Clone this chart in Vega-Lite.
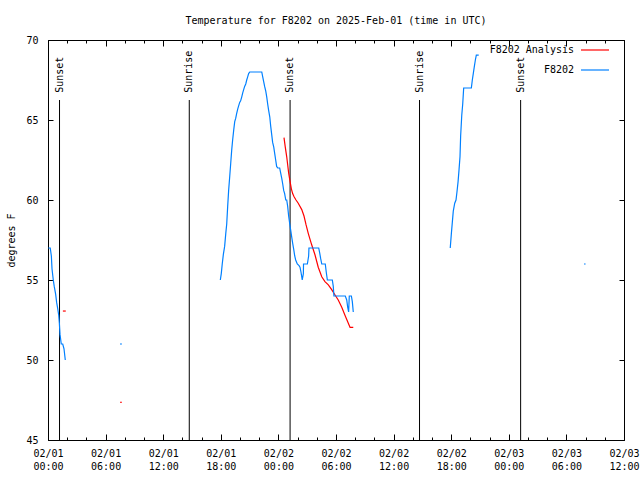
{
  "$schema": "https://vega.github.io/schema/vega-lite/v6.json",
  "width": 576,
  "height": 400,
  "autosize": "none",
  "padding": {"left": 48, "top": 40, "right": 16, "bottom": 40},
  "background": "white",
  "config": {
    "view": {"stroke": "black", "strokeWidth": 1},
    "font": "DejaVu Sans Mono",
    "axis": {"domain": false, "grid": false, "ticks": true, "zindex": 1, "labelFont": "DejaVu Sans Mono", "labelFontSize": 10, "labelColor": "black", "tickColor": "black", "tickWidth": 1, "tickOpacity": 1, "titleFont": "DejaVu Sans Mono", "titleFontSize": 10, "titleFontWeight": "normal", "titleColor": "black"}
  },
  "title": {"text": "Temperature for F8202 on 2025-Feb-01 (time in UTC)", "font": "DejaVu Sans Mono", "fontSize": 10, "fontWeight": "normal", "color": "black", "anchor": "middle", "offset": 9},
  "datasets": {
    "obs": [
      {"s": "F8202", "g": "b1", "t": "2025-02-01T00:02:00Z", "v": 57.0},
      {"s": "F8202", "g": "b1", "t": "2025-02-01T00:14:00Z", "v": 57.0},
      {"s": "F8202", "g": "b1", "t": "2025-02-01T00:21:00Z", "v": 56.5},
      {"s": "F8202", "g": "b1", "t": "2025-02-01T00:25:00Z", "v": 55.7},
      {"s": "F8202", "g": "b1", "t": "2025-02-01T00:33:00Z", "v": 55.0},
      {"s": "F8202", "g": "b1", "t": "2025-02-01T00:39:00Z", "v": 54.6},
      {"s": "F8202", "g": "b1", "t": "2025-02-01T00:48:00Z", "v": 54.1},
      {"s": "F8202", "g": "b1", "t": "2025-02-01T00:54:00Z", "v": 53.6},
      {"s": "F8202", "g": "b1", "t": "2025-02-01T01:01:00Z", "v": 53.2},
      {"s": "F8202", "g": "b1", "t": "2025-02-01T01:07:00Z", "v": 52.8},
      {"s": "F8202", "g": "b1", "t": "2025-02-01T01:11:00Z", "v": 52.3},
      {"s": "F8202", "g": "b1", "t": "2025-02-01T01:15:00Z", "v": 51.6},
      {"s": "F8202", "g": "b1", "t": "2025-02-01T01:23:00Z", "v": 51.0},
      {"s": "F8202", "g": "b1", "t": "2025-02-01T01:32:00Z", "v": 51.0},
      {"s": "F8202", "g": "b1", "t": "2025-02-01T01:40:00Z", "v": 50.7},
      {"s": "F8202", "g": "b1", "t": "2025-02-01T01:48:00Z", "v": 50.0},
      {"s": "F8202", "g": "b2", "t": "2025-02-01T07:30:00Z", "v": 51.0},
      {"s": "F8202", "g": "b2", "t": "2025-02-01T07:42:00Z", "v": 51.0},
      {"s": "F8202", "g": "b3", "t": "2025-02-01T17:57:00Z", "v": 55.0},
      {"s": "F8202", "g": "b3", "t": "2025-02-01T18:03:00Z", "v": 55.4},
      {"s": "F8202", "g": "b3", "t": "2025-02-01T18:09:00Z", "v": 56.0},
      {"s": "F8202", "g": "b3", "t": "2025-02-01T18:16:00Z", "v": 56.6},
      {"s": "F8202", "g": "b3", "t": "2025-02-01T18:24:00Z", "v": 57.1},
      {"s": "F8202", "g": "b3", "t": "2025-02-01T18:31:00Z", "v": 57.9},
      {"s": "F8202", "g": "b3", "t": "2025-02-01T18:37:00Z", "v": 58.5},
      {"s": "F8202", "g": "b3", "t": "2025-02-01T18:43:00Z", "v": 59.6},
      {"s": "F8202", "g": "b3", "t": "2025-02-01T18:49:00Z", "v": 60.6},
      {"s": "F8202", "g": "b3", "t": "2025-02-01T18:56:00Z", "v": 61.5},
      {"s": "F8202", "g": "b3", "t": "2025-02-01T19:02:00Z", "v": 62.3},
      {"s": "F8202", "g": "b3", "t": "2025-02-01T19:08:00Z", "v": 63.1},
      {"s": "F8202", "g": "b3", "t": "2025-02-01T19:14:00Z", "v": 63.75},
      {"s": "F8202", "g": "b3", "t": "2025-02-01T19:21:00Z", "v": 64.4},
      {"s": "F8202", "g": "b3", "t": "2025-02-01T19:27:00Z", "v": 64.9},
      {"s": "F8202", "g": "b3", "t": "2025-02-01T19:33:00Z", "v": 65.1},
      {"s": "F8202", "g": "b3", "t": "2025-02-01T19:39:00Z", "v": 65.4},
      {"s": "F8202", "g": "b3", "t": "2025-02-01T19:46:00Z", "v": 65.7},
      {"s": "F8202", "g": "b3", "t": "2025-02-01T19:52:00Z", "v": 65.9},
      {"s": "F8202", "g": "b3", "t": "2025-02-01T19:58:00Z", "v": 66.1},
      {"s": "F8202", "g": "b3", "t": "2025-02-01T20:04:00Z", "v": 66.2},
      {"s": "F8202", "g": "b3", "t": "2025-02-01T20:11:00Z", "v": 66.45},
      {"s": "F8202", "g": "b3", "t": "2025-02-01T20:17:00Z", "v": 66.7},
      {"s": "F8202", "g": "b3", "t": "2025-02-01T20:23:00Z", "v": 66.9},
      {"s": "F8202", "g": "b3", "t": "2025-02-01T20:29:00Z", "v": 67.1},
      {"s": "F8202", "g": "b3", "t": "2025-02-01T20:36:00Z", "v": 67.25},
      {"s": "F8202", "g": "b3", "t": "2025-02-01T20:42:00Z", "v": 67.5},
      {"s": "F8202", "g": "b3", "t": "2025-02-01T20:48:00Z", "v": 67.7},
      {"s": "F8202", "g": "b3", "t": "2025-02-01T20:54:00Z", "v": 67.9},
      {"s": "F8202", "g": "b3", "t": "2025-02-01T21:01:00Z", "v": 68.0},
      {"s": "F8202", "g": "b3", "t": "2025-02-01T22:16:00Z", "v": 68.0},
      {"s": "F8202", "g": "b3", "t": "2025-02-01T22:22:00Z", "v": 67.7},
      {"s": "F8202", "g": "b3", "t": "2025-02-01T22:28:00Z", "v": 67.4},
      {"s": "F8202", "g": "b3", "t": "2025-02-01T22:34:00Z", "v": 67.1},
      {"s": "F8202", "g": "b3", "t": "2025-02-01T22:41:00Z", "v": 66.8},
      {"s": "F8202", "g": "b3", "t": "2025-02-01T22:47:00Z", "v": 66.45},
      {"s": "F8202", "g": "b3", "t": "2025-02-01T22:53:00Z", "v": 66.0},
      {"s": "F8202", "g": "b3", "t": "2025-02-01T22:59:00Z", "v": 65.6},
      {"s": "F8202", "g": "b3", "t": "2025-02-01T23:06:00Z", "v": 65.2},
      {"s": "F8202", "g": "b3", "t": "2025-02-01T23:12:00Z", "v": 64.6},
      {"s": "F8202", "g": "b3", "t": "2025-02-01T23:18:00Z", "v": 64.1},
      {"s": "F8202", "g": "b3", "t": "2025-02-01T23:24:00Z", "v": 63.6},
      {"s": "F8202", "g": "b3", "t": "2025-02-01T23:31:00Z", "v": 63.3},
      {"s": "F8202", "g": "b3", "t": "2025-02-01T23:37:00Z", "v": 62.9},
      {"s": "F8202", "g": "b3", "t": "2025-02-01T23:43:00Z", "v": 62.5},
      {"s": "F8202", "g": "b3", "t": "2025-02-01T23:49:00Z", "v": 62.1},
      {"s": "F8202", "g": "b3", "t": "2025-02-01T23:56:00Z", "v": 62.0},
      {"s": "F8202", "g": "b3", "t": "2025-02-02T00:08:00Z", "v": 62.0},
      {"s": "F8202", "g": "b3", "t": "2025-02-02T00:14:00Z", "v": 61.7},
      {"s": "F8202", "g": "b3", "t": "2025-02-02T00:21:00Z", "v": 61.35},
      {"s": "F8202", "g": "b3", "t": "2025-02-02T00:27:00Z", "v": 61.0},
      {"s": "F8202", "g": "b3", "t": "2025-02-02T00:33:00Z", "v": 60.6},
      {"s": "F8202", "g": "b3", "t": "2025-02-02T00:39:00Z", "v": 60.4},
      {"s": "F8202", "g": "b3", "t": "2025-02-02T00:46:00Z", "v": 60.0},
      {"s": "F8202", "g": "b3", "t": "2025-02-02T00:52:00Z", "v": 60.0},
      {"s": "F8202", "g": "b3", "t": "2025-02-02T00:58:00Z", "v": 59.6},
      {"s": "F8202", "g": "b3", "t": "2025-02-02T01:04:00Z", "v": 59.0},
      {"s": "F8202", "g": "b3", "t": "2025-02-02T01:11:00Z", "v": 58.5},
      {"s": "F8202", "g": "b3", "t": "2025-02-02T01:17:00Z", "v": 58.1},
      {"s": "F8202", "g": "b3", "t": "2025-02-02T01:23:00Z", "v": 57.7},
      {"s": "F8202", "g": "b3", "t": "2025-02-02T01:29:00Z", "v": 57.3},
      {"s": "F8202", "g": "b3", "t": "2025-02-02T01:36:00Z", "v": 56.9},
      {"s": "F8202", "g": "b3", "t": "2025-02-02T01:42:00Z", "v": 56.5},
      {"s": "F8202", "g": "b3", "t": "2025-02-02T01:48:00Z", "v": 56.25},
      {"s": "F8202", "g": "b3", "t": "2025-02-02T01:58:00Z", "v": 56.0},
      {"s": "F8202", "g": "b3", "t": "2025-02-02T02:09:00Z", "v": 55.9},
      {"s": "F8202", "g": "b3", "t": "2025-02-02T02:15:00Z", "v": 55.8},
      {"s": "F8202", "g": "b3", "t": "2025-02-02T02:21:00Z", "v": 55.5},
      {"s": "F8202", "g": "b3", "t": "2025-02-02T02:26:00Z", "v": 55.2},
      {"s": "F8202", "g": "b3", "t": "2025-02-02T02:29:00Z", "v": 55.0},
      {"s": "F8202", "g": "b3", "t": "2025-02-02T02:36:00Z", "v": 55.4},
      {"s": "F8202", "g": "b3", "t": "2025-02-02T02:37:00Z", "v": 56.0},
      {"s": "F8202", "g": "b3", "t": "2025-02-02T03:01:00Z", "v": 56.0},
      {"s": "F8202", "g": "b3", "t": "2025-02-02T03:09:00Z", "v": 56.5},
      {"s": "F8202", "g": "b3", "t": "2025-02-02T03:11:00Z", "v": 57.0},
      {"s": "F8202", "g": "b3", "t": "2025-02-02T04:12:00Z", "v": 57.0},
      {"s": "F8202", "g": "b3", "t": "2025-02-02T04:18:00Z", "v": 56.7},
      {"s": "F8202", "g": "b3", "t": "2025-02-02T04:24:00Z", "v": 56.35},
      {"s": "F8202", "g": "b3", "t": "2025-02-02T04:31:00Z", "v": 56.0},
      {"s": "F8202", "g": "b3", "t": "2025-02-02T04:53:00Z", "v": 56.0},
      {"s": "F8202", "g": "b3", "t": "2025-02-02T04:59:00Z", "v": 55.5},
      {"s": "F8202", "g": "b3", "t": "2025-02-02T05:06:00Z", "v": 55.0},
      {"s": "F8202", "g": "b3", "t": "2025-02-02T05:37:00Z", "v": 55.0},
      {"s": "F8202", "g": "b3", "t": "2025-02-02T05:43:00Z", "v": 54.6},
      {"s": "F8202", "g": "b3", "t": "2025-02-02T05:47:00Z", "v": 54.0},
      {"s": "F8202", "g": "b3", "t": "2025-02-02T06:58:00Z", "v": 54.0},
      {"s": "F8202", "g": "b3", "t": "2025-02-02T07:07:00Z", "v": 53.75},
      {"s": "F8202", "g": "b3", "t": "2025-02-02T07:13:00Z", "v": 53.3},
      {"s": "F8202", "g": "b3", "t": "2025-02-02T07:19:00Z", "v": 53.0},
      {"s": "F8202", "g": "b3", "t": "2025-02-02T07:23:00Z", "v": 54.0},
      {"s": "F8202", "g": "b3", "t": "2025-02-02T07:36:00Z", "v": 54.0},
      {"s": "F8202", "g": "b3", "t": "2025-02-02T07:42:00Z", "v": 53.65},
      {"s": "F8202", "g": "b3", "t": "2025-02-02T07:48:00Z", "v": 53.0},
      {"s": "F8202", "g": "b4", "t": "2025-02-02T17:54:00Z", "v": 57.0},
      {"s": "F8202", "g": "b4", "t": "2025-02-02T18:01:00Z", "v": 57.9},
      {"s": "F8202", "g": "b4", "t": "2025-02-02T18:07:00Z", "v": 58.6},
      {"s": "F8202", "g": "b4", "t": "2025-02-02T18:13:00Z", "v": 59.3},
      {"s": "F8202", "g": "b4", "t": "2025-02-02T18:22:00Z", "v": 59.8},
      {"s": "F8202", "g": "b4", "t": "2025-02-02T18:30:00Z", "v": 60.0},
      {"s": "F8202", "g": "b4", "t": "2025-02-02T18:36:00Z", "v": 60.5},
      {"s": "F8202", "g": "b4", "t": "2025-02-02T18:43:00Z", "v": 61.15},
      {"s": "F8202", "g": "b4", "t": "2025-02-02T18:49:00Z", "v": 61.9},
      {"s": "F8202", "g": "b4", "t": "2025-02-02T18:55:00Z", "v": 62.7},
      {"s": "F8202", "g": "b4", "t": "2025-02-02T18:59:00Z", "v": 64.0},
      {"s": "F8202", "g": "b4", "t": "2025-02-02T19:06:00Z", "v": 65.3},
      {"s": "F8202", "g": "b4", "t": "2025-02-02T19:12:00Z", "v": 66.0},
      {"s": "F8202", "g": "b4", "t": "2025-02-02T19:18:00Z", "v": 67.0},
      {"s": "F8202", "g": "b4", "t": "2025-02-02T20:06:00Z", "v": 67.0},
      {"s": "F8202", "g": "b4", "t": "2025-02-02T20:12:00Z", "v": 67.5},
      {"s": "F8202", "g": "b4", "t": "2025-02-02T20:18:00Z", "v": 67.9},
      {"s": "F8202", "g": "b4", "t": "2025-02-02T20:24:00Z", "v": 68.3},
      {"s": "F8202", "g": "b4", "t": "2025-02-02T20:31:00Z", "v": 68.75},
      {"s": "F8202", "g": "b4", "t": "2025-02-02T20:37:00Z", "v": 69.06},
      {"s": "F8202", "g": "b4", "t": "2025-02-02T20:52:00Z", "v": 69.06},
      {"s": "F8202", "g": "b5", "t": "2025-02-03T07:50:00Z", "v": 56.0},
      {"s": "F8202", "g": "b5", "t": "2025-02-03T08:00:00Z", "v": 56.0},
      {"s": "F8202 Analysis", "g": "r1", "t": "2025-02-01T01:33:00Z", "v": 53.06},
      {"s": "F8202 Analysis", "g": "r1", "t": "2025-02-01T01:51:00Z", "v": 53.06},
      {"s": "F8202 Analysis", "g": "r2", "t": "2025-02-01T07:30:00Z", "v": 47.36},
      {"s": "F8202 Analysis", "g": "r2", "t": "2025-02-01T07:42:00Z", "v": 47.36},
      {"s": "F8202 Analysis", "g": "r3", "t": "2025-02-02T00:35:00Z", "v": 63.9},
      {"s": "F8202 Analysis", "g": "r3", "t": "2025-02-02T00:43:00Z", "v": 63.3},
      {"s": "F8202 Analysis", "g": "r3", "t": "2025-02-02T00:52:00Z", "v": 62.7},
      {"s": "F8202 Analysis", "g": "r3", "t": "2025-02-02T00:58:00Z", "v": 62.2},
      {"s": "F8202 Analysis", "g": "r3", "t": "2025-02-02T01:04:00Z", "v": 61.7},
      {"s": "F8202 Analysis", "g": "r3", "t": "2025-02-02T01:13:00Z", "v": 61.15},
      {"s": "F8202 Analysis", "g": "r3", "t": "2025-02-02T01:21:00Z", "v": 60.7},
      {"s": "F8202 Analysis", "g": "r3", "t": "2025-02-02T01:29:00Z", "v": 60.4},
      {"s": "F8202 Analysis", "g": "r3", "t": "2025-02-02T01:38:00Z", "v": 60.2},
      {"s": "F8202 Analysis", "g": "r3", "t": "2025-02-02T01:50:00Z", "v": 60.0},
      {"s": "F8202 Analysis", "g": "r3", "t": "2025-02-02T02:04:00Z", "v": 59.8},
      {"s": "F8202 Analysis", "g": "r3", "t": "2025-02-02T02:26:00Z", "v": 59.4},
      {"s": "F8202 Analysis", "g": "r3", "t": "2025-02-02T02:40:00Z", "v": 59.0},
      {"s": "F8202 Analysis", "g": "r3", "t": "2025-02-02T02:53:00Z", "v": 58.44},
      {"s": "F8202 Analysis", "g": "r3", "t": "2025-02-02T03:07:00Z", "v": 57.9},
      {"s": "F8202 Analysis", "g": "r3", "t": "2025-02-02T03:28:00Z", "v": 57.2},
      {"s": "F8202 Analysis", "g": "r3", "t": "2025-02-02T03:49:00Z", "v": 56.56},
      {"s": "F8202 Analysis", "g": "r3", "t": "2025-02-02T04:09:00Z", "v": 55.8},
      {"s": "F8202 Analysis", "g": "r3", "t": "2025-02-02T04:31:00Z", "v": 55.2},
      {"s": "F8202 Analysis", "g": "r3", "t": "2025-02-02T04:51:00Z", "v": 54.9},
      {"s": "F8202 Analysis", "g": "r3", "t": "2025-02-02T05:12:00Z", "v": 54.7},
      {"s": "F8202 Analysis", "g": "r3", "t": "2025-02-02T05:33:00Z", "v": 54.4},
      {"s": "F8202 Analysis", "g": "r3", "t": "2025-02-02T05:54:00Z", "v": 54.06},
      {"s": "F8202 Analysis", "g": "r3", "t": "2025-02-02T06:14:00Z", "v": 53.75},
      {"s": "F8202 Analysis", "g": "r3", "t": "2025-02-02T06:36:00Z", "v": 53.3},
      {"s": "F8202 Analysis", "g": "r3", "t": "2025-02-02T06:56:00Z", "v": 52.8},
      {"s": "F8202 Analysis", "g": "r3", "t": "2025-02-02T07:17:00Z", "v": 52.3},
      {"s": "F8202 Analysis", "g": "r3", "t": "2025-02-02T07:28:00Z", "v": 52.04},
      {"s": "F8202 Analysis", "g": "r3", "t": "2025-02-02T07:48:00Z", "v": 52.04}
    ],
    "sun": [
      {"t": "2025-02-01T01:12:00Z", "label": "Sunset"},
      {"t": "2025-02-01T14:43:00Z", "label": "Sunrise"},
      {"t": "2025-02-02T01:13:00Z", "label": "Sunset"},
      {"t": "2025-02-02T14:42:00Z", "label": "Sunrise"},
      {"t": "2025-02-03T01:14:00Z", "label": "Sunset"}
    ]
  },
  "layer": [
    {
      "data": {"name": "sun"},
      "mark": {"type": "rule", "color": "black", "strokeWidth": 1},
      "encoding": {
        "x": {"field": "t", "type": "temporal",
              "scale": {"type": "utc", "nice": false, "domain": [1738368000000, 1738584000000]},
              "axis": {"orient": "bottom", "title": null, "tickSize": 3, "offset": -3, "labels": false,
                       "values": [1738368000000, 1738375200000, 1738382400000, 1738389600000, 1738396800000, 1738404000000, 1738411200000, 1738418400000, 1738425600000, 1738432800000, 1738440000000, 1738447200000, 1738454400000, 1738461600000, 1738468800000, 1738476000000, 1738483200000, 1738490400000, 1738497600000, 1738504800000, 1738512000000, 1738519200000, 1738526400000, 1738533600000, 1738540800000, 1738548000000, 1738555200000, 1738562400000, 1738569600000, 1738576800000, 1738584000000]}},
        "y": {"datum": 66.25, "type": "quantitative", "scale": {"domain": [45, 70], "nice": false, "zero": false}, "axis": null},
        "y2": {"datum": 45}
      }
    },
    {
      "data": {"name": "sun"},
      "mark": {"type": "text", "angle": 270, "align": "left", "baseline": "middle", "font": "DejaVu Sans Mono", "fontSize": 10, "color": "black"},
      "encoding": {
        "x": {"field": "t", "type": "temporal",
              "axis": {"orient": "top", "title": null, "tickSize": 3, "offset": -3, "labels": false,
                       "values": [1738368000000, 1738375200000, 1738382400000, 1738389600000, 1738396800000, 1738404000000, 1738411200000, 1738418400000, 1738425600000, 1738432800000, 1738440000000, 1738447200000, 1738454400000, 1738461600000, 1738468800000, 1738476000000, 1738483200000, 1738490400000, 1738497600000, 1738504800000, 1738512000000, 1738519200000, 1738526400000, 1738533600000, 1738540800000, 1738548000000, 1738555200000, 1738562400000, 1738569600000, 1738576800000, 1738584000000]}},
        "y": {"datum": 66.7, "type": "quantitative", "axis": null},
        "text": {"field": "label"}
      }
    },
    {
      "data": {"name": "obs"},
      "transform": [{"filter": "datum.s === 'F8202 Analysis'"}],
      "mark": {"type": "line", "strokeWidth": 1.2},
      "encoding": {
        "x": {"field": "t", "type": "temporal",
              "axis": {"orient": "bottom", "title": null, "tickSize": 6, "offset": -6, "labelPadding": 8, "labelBaseline": "top", "labelLineHeight": 13, "labelAlign": "center", "labelOverlap": false, "labelFlush": false, "labelBound": false,
                       "values": [1738368000000, 1738389600000, 1738411200000, 1738432800000, 1738454400000, 1738476000000, 1738497600000, 1738519200000, 1738540800000, 1738562400000, 1738584000000],
                       "labelExpr": "[utcFormat(datum.value, '%m/%d'), utcFormat(datum.value, '%H:%M')]"}},
        "y": {"field": "v", "type": "quantitative",
              "axis": {"orient": "left", "values": [45, 50, 55, 60, 65, 70], "tickSize": 5, "offset": -5, "labelPadding": 10, "title": "degrees F", "titleAngle": -90, "titleX": -42, "titleY": 200, "titleAlign": "center", "titleBaseline": "middle", "labelBound": false, "labelFlush": false, "labelOverlap": false}},
        "color": {"field": "s", "type": "nominal",
                  "scale": {"domain": ["F8202 Analysis", "F8202"], "range": ["#ff0000", "#0080ff"]},
                  "legend": {"title": null, "orient": "none", "legendX": 532, "legendY": -5, "symbolType": "stroke", "symbolSize": 784, "symbolStrokeWidth": 1.2, "labelAlign": "right", "labelOffset": -36, "labelFont": "DejaVu Sans Mono", "labelFontSize": 10, "labelColor": "black", "rowPadding": 0, "padding": 0, "labelLimit": 0}},
        "detail": {"field": "g", "type": "nominal"}
      }
    },
    {
      "data": {"name": "obs"},
      "transform": [{"filter": "datum.s === 'F8202'"}],
      "mark": {"type": "line", "strokeWidth": 1.2},
      "encoding": {
        "x": {"field": "t", "type": "temporal",
              "axis": {"orient": "top", "title": null, "tickSize": 6, "offset": -6, "labels": false,
                       "values": [1738368000000, 1738389600000, 1738411200000, 1738432800000, 1738454400000, 1738476000000, 1738497600000, 1738519200000, 1738540800000, 1738562400000, 1738584000000]}},
        "y": {"field": "v", "type": "quantitative",
              "axis": {"orient": "right", "values": [45, 50, 55, 60, 65, 70], "tickSize": 5, "offset": -5, "labels": false, "title": null}},
        "color": {"field": "s", "type": "nominal"},
        "detail": {"field": "g", "type": "nominal"}
      }
    }
  ],
  "resolve": {"axis": {"x": "independent", "y": "independent"}}
}
